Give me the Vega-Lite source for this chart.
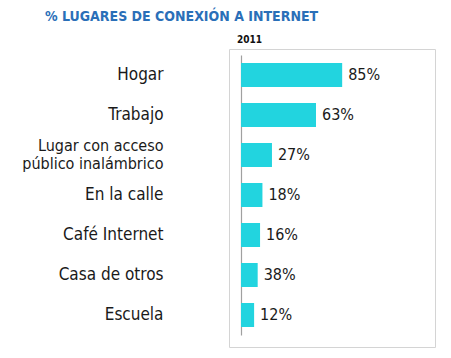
{
  "$schema": "https://vega.github.io/schema/vega-lite/v6.json",
  "autosize": "none",
  "width": 206,
  "height": 298,
  "padding": {"left": 229, "top": 49, "right": 16, "bottom": 11},
  "background": "white",
  "config": {"view": {"stroke": "#d4d4d4", "strokeWidth": 1}},
  "title": {
    "text": "% LUGARES DE CONEXIÓN A INTERNET",
    "anchor": "start",
    "frame": "group",
    "dx": -184,
    "font": "DejaVu Sans Condensed",
    "fontWeight": "bold",
    "fontSize": 14,
    "color": "#2a6fb8",
    "offset": 10
  },
  "data": {
    "values": [
      {"lugar": "Hogar", "valor": 85, "etiqueta": "85%"},
      {"lugar": "Trabajo", "valor": 63, "etiqueta": "63%"},
      {"lugar": "Lugar con acceso|público inalámbrico", "valor": 26, "etiqueta": "27%"},
      {"lugar": "En la calle", "valor": 18, "etiqueta": "18%"},
      {"lugar": "Café Internet", "valor": 16, "etiqueta": "16%"},
      {"lugar": "Casa de otros", "valor": 14, "etiqueta": "38%"},
      {"lugar": "Escuela", "valor": 11, "etiqueta": "12%"}
    ]
  },
  "encoding": {
    "y": {
      "field": "lugar",
      "type": "nominal",
      "sort": null,
      "scale": {"range": [6, 286], "paddingInner": 0.4, "paddingOuter": 0.2},
      "axis": {
        "title": null,
        "offset": -12,
        "labelPadding": 78,
        "ticks": false,
        "domainColor": "#a0a0a0",
        "domainWidth": 1.2,
        "labelFont": "DejaVu Sans Condensed",
        "labelFontSize": {"condition": {"test": "indexof(datum.value, '|') >= 0", "value": 16}, "value": 17},
        "labelColor": "#1a1a1a",
        "labelLineHeight": 18,
        "labelLimit": 300,
        "labelOffset": {"condition": {"test": "indexof(datum.value, '|') >= 0", "value": -9}, "value": 0},
        "labelExpr": "split(datum.label, '|')"
      }
    },
    "x": {
      "field": "valor",
      "type": "quantitative",
      "scale": {"domain": [-10.1, 163], "nice": false, "zero": false},
      "axis": {
        "orient": "top",
        "title": "2011",
        "titleFont": "DejaVu Sans Condensed",
        "titleFontSize": 10,
        "titleFontWeight": "bold",
        "titleColor": "#111111",
        "titleX": 20,
        "titleY": -5,
        "titleAlign": "center",
        "domain": false,
        "ticks": false,
        "labels": false,
        "grid": false
      }
    }
  },
  "layer": [
    {
      "mark": {"type": "bar", "color": "#22d4df"},
      "encoding": {"x": {"datum": 0}, "x2": {"field": "valor"}}
    },
    {
      "mark": {
        "type": "text",
        "align": "left",
        "dx": 6,
        "font": "DejaVu Sans Condensed",
        "fontSize": 16,
        "color": "#1a1a1a"
      },
      "encoding": {"text": {"field": "etiqueta"}}
    }
  ]
}
